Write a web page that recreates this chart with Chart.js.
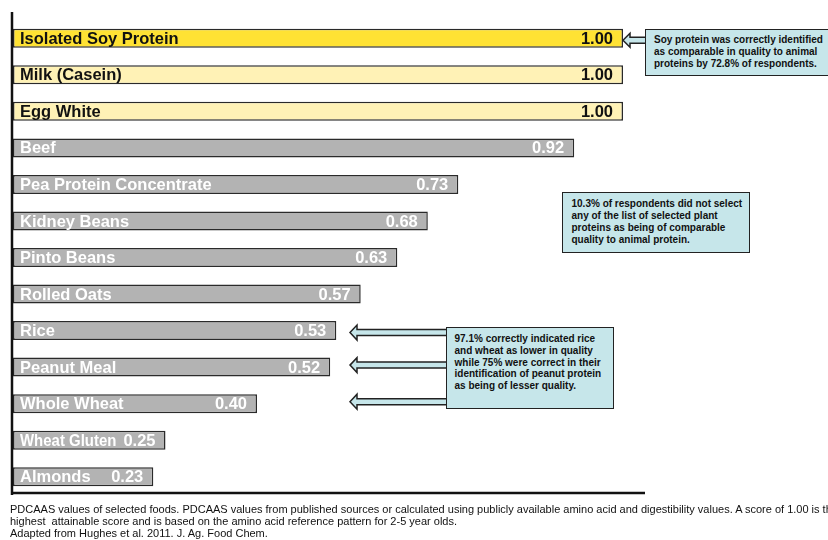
<!DOCTYPE html>
<html>
<head>
<meta charset="utf-8">
<script src="https://cdn.jsdelivr.net/npm/chart.js@4"></script>
<style>
  html, body { margin: 0; padding: 0; background: #fff; overflow: hidden; }
  #wrap { position: relative; width: 828px; height: 540px; overflow: hidden; }
  #c { position: absolute; left: 0; top: 0; }
  .note {
    position: absolute; box-sizing: border-box;
    border: 1.5px solid #222; background: #c6e6ea;
    font: bold 10px "Liberation Sans", Arial, sans-serif; color: #111;
    line-height: 12px; white-space: nowrap;
  }
  #caption {
    position: absolute; left: 10px; top: 503px;
    font: 11px "Liberation Sans", Arial, sans-serif; color: #111;
    line-height: 12px; white-space: nowrap;
  }
</style>
</head>
<body>
<div id="wrap">
  <canvas id="c" width="828" height="540"></canvas>
  <div class="note" id="n1" style="left:645px;top:29px;width:200px;height:47px;padding:4px 0 0 8px;">Soy protein was correctly identified<br>as comparable in quality to animal<br>proteins by 72.8% of respondents.</div>
  <div class="note" id="n2" style="left:562px;top:192px;width:188px;height:61px;padding:4.5px 0 0 8.5px;">10.3% of respondents did not select<br>any of the list of selected plant<br>proteins as being of comparable<br>quality to animal protein.</div>
  <div class="note" id="n3" style="left:446px;top:327px;width:168px;height:82px;padding:5px 0 0 7.5px;line-height:11.8px;">97.1% correctly indicated rice<br>and wheat as lower in quality<br>while 75% were correct in their<br>identification of peanut protein<br>as being of lesser quality.</div>
  <div id="caption">PDCAAS values of selected foods. PDCAAS values from published sources or calculated using publicly available amino acid and digestibility values. A score of 1.00 is the<br>highest&nbsp; attainable score and is based on the amino acid reference pattern for 2-5 year olds.<br>Adapted from Hughes et al. 2011. J. Ag. Food Chem.</div>
</div>
<script>
const categories = ['Isolated Soy Protein', 'Milk (Casein)', 'Egg White', 'Beef', 'Pea Protein Concentrate', 'Kidney Beans', 'Pinto Beans', 'Rolled Oats', 'Rice', 'Peanut Meal', 'Whole Wheat', 'Wheat Gluten', 'Almonds'];
const pdcaas = [1.00, 1.00, 1.00, 0.92, 0.73, 0.68, 0.63, 0.57, 0.53, 0.52, 0.40, 0.25, 0.23];
const valueLabels = ['1.00', '1.00', '1.00', '0.92', '0.73', '0.68', '0.63', '0.57', '0.53', '0.52', '0.40', '0.25', '0.23'];

const barColors = pdcaas.map((v, i) => i === 0 ? '#ffe234' : (i < 3 ? '#fff2b6' : '#b3b3b3'));
const textColors = pdcaas.map((v, i) => i < 3 ? '#111111' : '#ffffff');

function drawArrow(ctx, tipX, y, headBaseX, tailX, shaftH, headH) {
  ctx.beginPath();
  ctx.moveTo(tipX, y);
  ctx.lineTo(headBaseX, y - headH / 2);
  ctx.lineTo(headBaseX, y - shaftH / 2);
  ctx.lineTo(tailX, y - shaftH / 2);
  ctx.lineTo(tailX, y + shaftH / 2);
  ctx.lineTo(headBaseX, y + shaftH / 2);
  ctx.lineTo(headBaseX, y + headH / 2);
  ctx.closePath();
  ctx.fillStyle = '#c6e6ea';
  ctx.fill();
  ctx.lineWidth = 1.5;
  ctx.strokeStyle = '#222';
  ctx.stroke();
}

const overlay = {
  id: 'overlay',
  afterDatasetsDraw(chart) {
    const ctx = chart.ctx;
    const area = chart.chartArea;
    const meta = chart.getDatasetMeta(0);
    const ys = chart.scales.y;
    ctx.save();
    // axis lines
    ctx.strokeStyle = '#111';
    ctx.lineWidth = 2.5;
    ctx.beginPath();
    ctx.moveTo(12, 12);
    ctx.lineTo(12, area.bottom);
    ctx.stroke();
    ctx.beginPath();
    ctx.moveTo(11, area.bottom - 2);
    ctx.lineTo(645, area.bottom - 2);
    ctx.stroke();
    // labels inside bars
    ctx.font = 'bold 16.5px "Liberation Sans", Arial, sans-serif';
    ctx.textBaseline = 'middle';
    meta.data.forEach((bar, i) => {
      const nameX = area.left + 7;
      const valRight = bar.x - 10;
      const valW = ctx.measureText(valueLabels[i]).width;
      const room = valRight - valW - 7 - nameX;
      ctx.fillStyle = textColors[i];
      ctx.textAlign = 'left';
      ctx.fillText(categories[i], nameX, bar.y + 1, room);
      ctx.textAlign = 'right';
      ctx.fillText(valueLabels[i], valRight, bar.y + 1);
    });
    // arrows
    drawArrow(ctx, 623, ys.getPixelForValue(0) + 2, 630, 646, 6, 14);
    [8, 9, 10].forEach((idx, k) => {
      const y = ys.getPixelForValue(idx) + [2, -2, -2][k];
      drawArrow(ctx, 350, y, 357, 447, 6, 15);
    });
    ctx.restore();
  }
};

new Chart(document.getElementById('c'), {
  type: 'bar',
  data: {
    labels: categories,
    datasets: [{
      data: pdcaas,
      backgroundColor: barColors,
      borderColor: '#2a2a2a',
      borderWidth: 1.5,
      borderSkipped: false,
      barPercentage: 0.52,
      categoryPercentage: 1.0
    }]
  },
  options: {
    indexAxis: 'y',
    responsive: false,
    animation: false,
    layout: { padding: { left: 13, right: 205, top: 20, bottom: 45 } },
    scales: {
      x: { display: false, min: 0, max: 1 },
      y: { display: false }
    },
    plugins: { legend: { display: false }, tooltip: { enabled: false } }
  },
  plugins: [overlay]
});
</script>
</body>
</html>
